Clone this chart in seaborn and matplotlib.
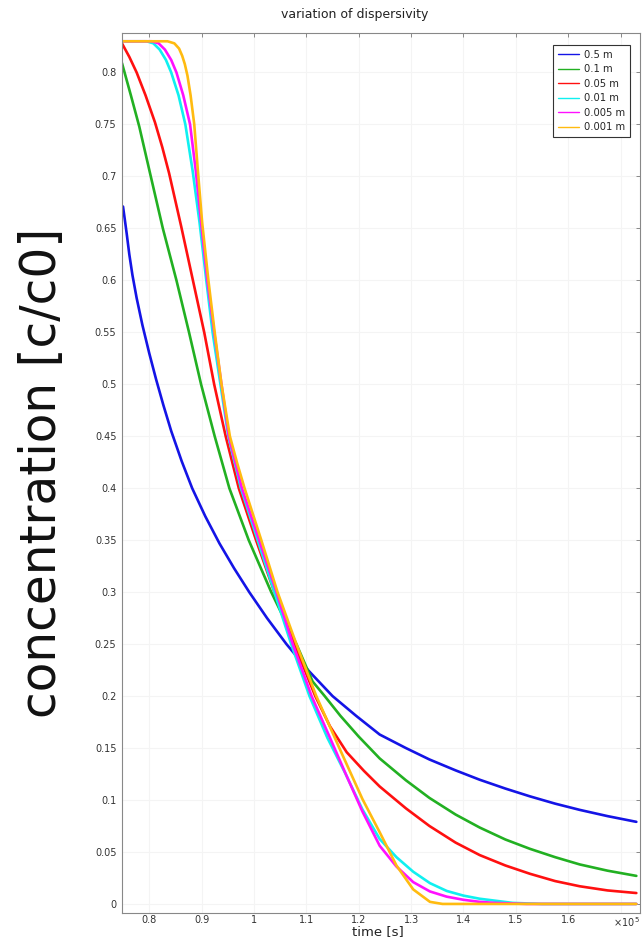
import numpy as np
import pandas as pd
import matplotlib
matplotlib.use("Agg")
import matplotlib.pyplot as plt
import seaborn as sns

# time in units of 1e5 s, concentration c/c0
t_05 = [0.750, 0.753, 0.757, 0.762, 0.768, 0.776, 0.787, 0.800, 0.813, 0.827, 0.842, 0.862, 0.882,
        0.907, 0.934, 0.962, 0.991, 1.025, 1.062, 1.105, 1.150, 1.195, 1.240, 1.290, 1.335, 1.385,
        1.431, 1.480, 1.527, 1.575, 1.622, 1.675, 1.730]
c_05 = [0.671, 0.660, 0.645, 0.625, 0.605, 0.583, 0.557, 0.530, 0.505, 0.480, 0.455, 0.426, 0.400,
        0.373, 0.347, 0.323, 0.300, 0.275, 0.250, 0.224, 0.200, 0.181, 0.163, 0.150, 0.139, 0.1285,
        0.1195, 0.111, 0.1035, 0.0965, 0.0905, 0.0845, 0.079]

t_01 = [0.748, 0.765, 0.781, 0.803, 0.826, 0.852, 0.876, 0.899, 0.925, 0.953, 0.990, 1.033, 1.081,
        1.112, 1.135, 1.165, 1.200, 1.240, 1.290, 1.335, 1.385, 1.431, 1.480, 1.527, 1.575, 1.622,
        1.675, 1.730]
c_01 = [0.809, 0.778, 0.748, 0.700, 0.650, 0.600, 0.550, 0.500, 0.450, 0.400, 0.350, 0.300, 0.250,
        0.214, 0.200, 0.181, 0.161, 0.140, 0.119, 0.102, 0.086, 0.0735, 0.062, 0.053, 0.045, 0.038,
        0.032, 0.027]

t_005 = [0.748, 0.762, 0.776, 0.793, 0.811, 0.825, 0.838, 0.861, 0.883, 0.905, 0.924, 0.946, 0.971,
         1.004, 1.039, 1.077, 1.117, 1.145, 1.177, 1.210, 1.240, 1.290, 1.335, 1.385, 1.431, 1.480,
         1.527, 1.575, 1.622, 1.675, 1.730]
c_005 = [0.828, 0.815, 0.800, 0.778, 0.752, 0.728, 0.703, 0.652, 0.601, 0.550, 0.500, 0.450, 0.400,
         0.350, 0.300, 0.250, 0.200, 0.171, 0.146, 0.128, 0.113, 0.092, 0.075, 0.059, 0.047, 0.037,
         0.029, 0.022, 0.017, 0.013, 0.0105]

t_001 = [0.748, 0.795, 0.808, 0.820, 0.832, 0.842, 0.856, 0.869, 0.883, 0.896, 0.909, 0.921, 0.936,
         0.951, 0.975, 1.007, 1.039, 1.071, 1.106, 1.140, 1.175, 1.207, 1.240, 1.272, 1.304, 1.336,
         1.368, 1.400, 1.431, 1.494, 1.550, 1.730]
c_001 = [0.830, 0.830, 0.828, 0.822, 0.812, 0.800, 0.778, 0.750, 0.705, 0.656, 0.600, 0.550, 0.500,
         0.450, 0.400, 0.350, 0.300, 0.250, 0.200, 0.160, 0.125, 0.091, 0.0625, 0.045, 0.031, 0.020,
         0.0125, 0.008, 0.005, 0.001, 0.0, 0.0]

t_0005 = [0.748, 0.805, 0.818, 0.830, 0.842, 0.852, 0.865, 0.878, 0.889, 0.899, 0.911, 0.924, 0.938,
          0.952, 0.977, 1.010, 1.043, 1.074, 1.110, 1.145, 1.177, 1.207, 1.240, 1.272, 1.304, 1.336,
          1.368, 1.400, 1.431, 1.460, 1.520, 1.730]
c_0005 = [0.830, 0.830, 0.828, 0.822, 0.812, 0.800, 0.778, 0.750, 0.705, 0.656, 0.600, 0.550, 0.500,
          0.450, 0.400, 0.350, 0.300, 0.250, 0.200, 0.160, 0.123, 0.089, 0.056, 0.036, 0.021, 0.012,
          0.007, 0.004, 0.002, 0.001, 0.0, 0.0]

t_0001 = [0.748, 0.835, 0.848, 0.857, 0.863, 0.868, 0.873, 0.879, 0.886, 0.893, 0.901, 0.913, 0.925,
          0.938, 0.954, 0.968, 0.982, 1.014, 1.045, 1.081, 1.119, 1.163, 1.207, 1.240, 1.272, 1.304,
          1.336, 1.360, 1.400, 1.730]
c_0001 = [0.830, 0.830, 0.828, 0.823, 0.816, 0.808, 0.797, 0.778, 0.750, 0.705, 0.656, 0.600, 0.550,
          0.500, 0.450, 0.424, 0.400, 0.350, 0.300, 0.250, 0.200, 0.150, 0.101, 0.069, 0.037, 0.014,
          0.002, 0.0, 0.0, 0.0]

labels = ["0.5 m", "0.1 m", "0.05 m", "0.01 m", "0.005 m", "0.001 m"]
colors = ["#1414e6", "#22b022", "#ff1010", "#10f0f0", "#ff10ff", "#ffbb10"]
times = [t_05, t_01, t_005, t_001, t_0005, t_0001]
concs = [c_05, c_01, c_005, c_001, c_0005, c_0001]

frames = []
for lab, t, c in zip(labels, times, concs):
    frames.append(pd.DataFrame({"time": t, "conc": c, "dispersivity": lab}))
df = pd.concat(frames, ignore_index=True)

sns.set_style("white")
plt.rcParams["font.family"] = ["DejaVu Sans"]

fig = plt.figure(figsize=(6.44, 9.42), dpi=100)
ax = fig.add_axes([0.1894, 0.0308, 0.8044, 0.9342])

sns.lineplot(data=df, x="time", y="conc", hue="dispersivity", hue_order=labels,
             palette=dict(zip(labels, colors)), estimator=None, sort=False,
             linewidth=1.9, ax=ax)

ax.set_xlim(0.748, 1.737)
ax.set_ylim(-0.0087, 0.838)

xt = [0.8, 0.9, 1.0, 1.1, 1.2, 1.3, 1.4, 1.5, 1.6, 1.7]
ax.set_xticks(xt)
ax.set_xticklabels(["%g" % v for v in xt[:-1]] + ["    ×10$^5$"])
yt = np.round(np.arange(0, 0.81, 0.05), 2)
ax.set_yticks(yt)
ax.set_yticklabels(["%g" % v for v in yt])

ax.tick_params(direction="in", top=True, right=True, length=3, width=0.6,
               color="#777777", labelsize=7, labelcolor="#333333")
ax.tick_params(axis="x", pad=1.5)
ax.tick_params(axis="y", pad=4)
for s in ax.spines.values():
    s.set_color("#888888")
    s.set_linewidth(0.8)
ax.grid(True, color="#f4f4f4", linewidth=0.8)

ax.set_title("variation of dispersivity", fontsize=9, color="#222222", pad=11, x=0.45)
ax.set_xlabel("time [s]", fontsize=9.5, color="#222222")
ax.xaxis.set_label_coords(0.494, -0.0135)
ax.set_ylabel("concentration [c/c0]", fontsize=35, color="#111111")
ax.yaxis.set_label_coords(-0.108, 0.5)

leg = ax.legend(loc="upper right", bbox_to_anchor=(0.9807, 0.9864), fontsize=7.2,
                frameon=True, fancybox=False, framealpha=1, edgecolor="#333333",
                handlelength=2.1, labelspacing=0.45, borderaxespad=0.0,
                handletextpad=0.5, borderpad=0.5)
leg.get_frame().set_linewidth(0.8)
for h in leg.get_lines():
    h.set_linewidth(1.0)

fig.savefig("out.png", dpi=100)
